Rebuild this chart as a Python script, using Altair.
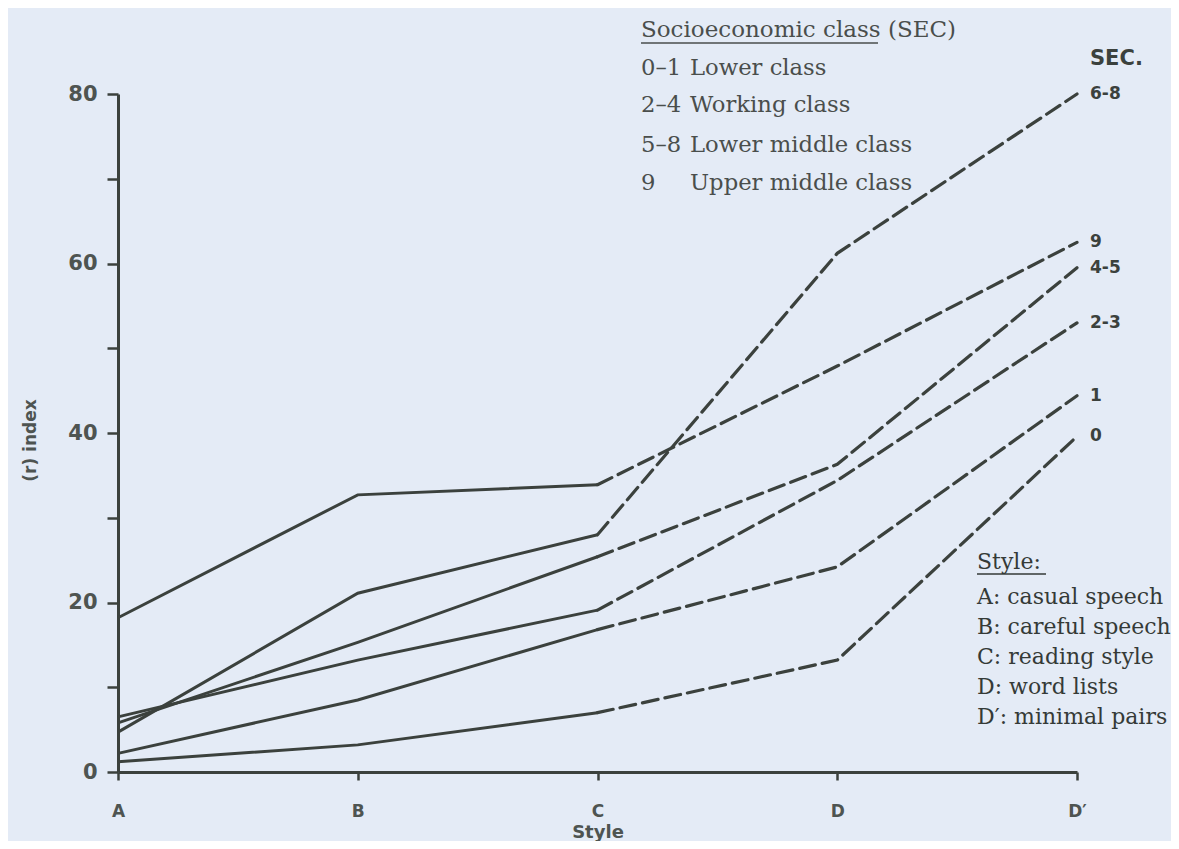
import altair as alt
import pandas as pd

styles = ["A", "B", "C", "D", "D′"]
sec_groups = ["0", "1", "2-3", "4-5", "6-8", "9"]
sec_0 = [1.2, 3.2, 7.0, 13.2, 39.6]
sec_1 = [2.2, 8.5, 16.8, 24.2, 44.4]
sec_23 = [6.5, 13.2, 19.1, 34.4, 53.0]
sec_45 = [5.8, 15.3, 25.4, 36.3, 59.5]
sec_68 = [4.7, 21.1, 28.0, 61.2, 80.0]
sec_9 = [18.2, 32.7, 33.9, 47.9, 62.5]

y_ticks = [0, 10, 20, 30, 40, 50, 60, 70, 80]

legend_title = "Socioeconomic class (SEC)"
legend_codes = ["0–1", "2–4", "5–8", "9"]
legend_names = ["Lower class", "Working class", "Lower middle class", "Upper middle class"]
style_title = "Style:"
style_lines = ["A: casual speech", "B: careful speech", "C: reading style",
               "D: word lists", "D′: minimal pairs"]

series = [sec_0, sec_1, sec_23, sec_45, sec_68, sec_9]
rows = []
for g, vals in zip(sec_groups, series):
    for i, (s, v) in enumerate(zip(styles, vals)):
        rows.append({"sec": g, "style": s, "idx": i, "value": v})
df = pd.DataFrame(rows)
solid_df = df[df["idx"] <= 2]
dash_df = df[df["idx"] >= 2]
end_df = df[df["idx"] == 4]

INK = "#3b413d"
LABEL = "#4e5451"
TXT = "#4a4e4c"
TXT2 = "#353a37"
BG = "#e4ebf6"
SERIF = "DejaVu Serif"

x_enc = alt.X("style:N", sort=styles, scale=alt.Scale(domain=styles, type="point", padding=0),
              axis=alt.Axis(title="Style", labelAngle=0, labelFont="DejaVu Sans", labelFontWeight="bold",
                            labelFontSize=17, labelColor=LABEL, labelPadding=23, tickSize=8,
                            tickWidth=2.5, tickColor=INK, domainColor=INK, domainWidth=3,
                            titleFont="DejaVu Sans", titleFontWeight="bold", titleFontSize=18,
                            titleColor=LABEL, titleY=60, titleBaseline="middle", grid=False))
y_enc = alt.Y("value:Q", scale=alt.Scale(domain=[0, 80], nice=False, zero=True),
              axis=alt.Axis(title="(r) index", values=y_ticks,
                            labelExpr="datum.value % 20 == 0 ? datum.label : ''",
                            labelFont="DejaVu Sans", labelFontWeight="bold", labelFontSize=21,
                            labelColor=LABEL, labelPadding=10, tickSize=11, tickWidth=2.5,
                            tickColor=INK, domainColor=INK, domainWidth=3,
                            titleFont="DejaVu Sans", titleFontWeight="bold", titleFontSize=17,
                            titleColor=LABEL, titleX=-88, titleY=346, titleAngle=270,
                            titleAlign="center", titleBaseline="middle", grid=False))

solid = alt.Chart(solid_df).mark_line(color=INK, strokeWidth=3).encode(
    x=x_enc, y=y_enc, detail="sec:N", order="idx:Q")
dashed = alt.Chart(dash_df).mark_line(color=INK, strokeWidth=3.2, strokeDash=[16, 7],
                                      strokeCap="round").encode(
    x=alt.X("style:N", sort=styles), y="value:Q", detail="sec:N", order="idx:Q")

end_labels = alt.Chart(end_df).mark_text(align="left", baseline="middle", dx=13,
                                         font="DejaVu Sans", fontWeight="bold", fontSize=17,
                                         color=INK).encode(
    x=alt.X("style:N", sort=styles), y="value:Q", text="sec:N")


def label(text, x, y, font=SERIF, size=22, color=TXT, weight="normal"):
    return alt.Chart(pd.DataFrame({"t": [text]})).mark_text(
        align="left", baseline="middle", font=font, fontSize=size, color=color,
        fontWeight=weight).encode(x=alt.value(x), y=alt.value(y), text="t:N")


def underline(x1, x2, y, color):
    return alt.Chart(pd.DataFrame({"a": [0]})).mark_rule(color=color, strokeWidth=1.5).encode(
        x=alt.value(x1), x2=alt.value(x2), y=alt.value(y))


layers = [solid, dashed, end_labels]
layers.append(label("SEC.", 972, -35, font="DejaVu Sans", size=21, color=INK, weight="bold"))
layers.append(label(legend_title, 523, -64, size=23))
layers.append(underline(523, 760, -51, TXT))
leg_y = [-26, 11, 51, 89]
for code, name, yy in zip(legend_codes, legend_names, leg_y):
    layers.append(label(code, 523, yy, size=22.7))
    layers.append(label(name, 572, yy, size=22.7))

layers.append(label(style_title, 859, 468, size=22, color=TXT2))
layers.append(underline(859, 928, 480, TXT2))
sty_y = [503, 533, 563, 593, 623]
for t, yy in zip(style_lines, sty_y):
    layers.append(label(t, 859, yy, size=22, color=TXT2))

chart = alt.layer(*layers).properties(
    width=959, height=678,
    autosize=alt.AutoSizeParams(type="none"),
    padding={"left": 110, "top": 86, "right": 94, "bottom": 69},
    background=BG,
).configure_view(stroke=None)

chart.save("out.html", embed_options={"renderer": "svg", "actions": False})
